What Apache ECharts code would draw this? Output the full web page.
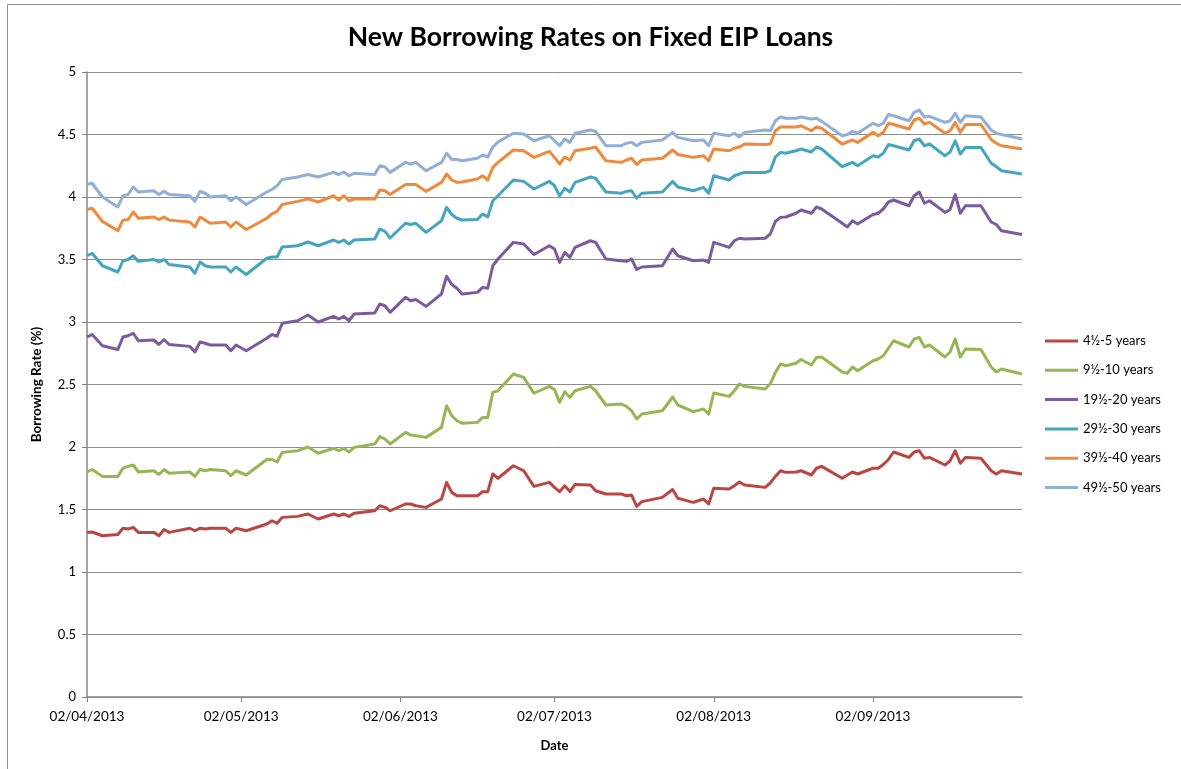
<!DOCTYPE html>
<html>
<head>
<meta charset="utf-8">
<script src="https://cdn.jsdelivr.net/npm/echarts@6/dist/echarts.min.js"></script>
<style>
html,body{margin:0;padding:0;background:#fff;}
#chart{width:1181px;height:769px;}
</style>
</head>
<body>
<div id="chart"></div>
<script>
const dates = [
'2013-04-02','2013-04-03','2013-04-05','2013-04-08','2013-04-09','2013-04-10','2013-04-11','2013-04-12','2013-04-15','2013-04-16',
'2013-04-17','2013-04-18','2013-04-22','2013-04-23','2013-04-24','2013-04-25','2013-04-26','2013-04-29','2013-04-30','2013-05-01',
'2013-05-03','2013-05-07','2013-05-08','2013-05-09','2013-05-10','2013-05-13','2013-05-15','2013-05-17','2013-05-20','2013-05-21',
'2013-05-22','2013-05-23','2013-05-24','2013-05-28','2013-05-29','2013-05-30','2013-05-31','2013-06-03','2013-06-04','2013-06-05',
'2013-06-07','2013-06-10','2013-06-11','2013-06-12','2013-06-13','2013-06-14','2013-06-17','2013-06-18','2013-06-19','2013-06-20',
'2013-06-21','2013-06-24','2013-06-26','2013-06-28','2013-07-01','2013-07-02','2013-07-03','2013-07-04','2013-07-05','2013-07-06',
'2013-07-09','2013-07-10','2013-07-12','2013-07-15','2013-07-16','2013-07-17','2013-07-18','2013-07-19','2013-07-23','2013-07-25',
'2013-07-26','2013-07-29','2013-07-31','2013-08-01','2013-08-02','2013-08-05','2013-08-06','2013-08-07','2013-08-08','2013-08-12',
'2013-08-13','2013-08-14','2013-08-15','2013-08-16','2013-08-18','2013-08-19','2013-08-21','2013-08-22','2013-08-23','2013-08-27',
'2013-08-28','2013-08-29','2013-08-30','2013-09-02','2013-09-03','2013-09-04','2013-09-05','2013-09-06','2013-09-09','2013-09-10',
'2013-09-11','2013-09-12','2013-09-13','2013-09-16','2013-09-17','2013-09-18','2013-09-19','2013-09-20','2013-09-23','2013-09-25',
'2013-09-26','2013-09-27','2013-10-01'
];

const rate4_5 = [
1.317,1.32,1.29,1.30,1.35,1.344,1.357,1.317,1.317,1.29,1.34,1.317,1.35,1.33,1.35,1.344,1.35,1.35,1.317,1.35,1.33,1.384,1.41,1.39,1.437,1.445,1.464,1.424,
1.464,1.45,1.464,1.445,1.47,1.49,1.53,1.517,1.49,1.544,1.544,1.53,1.517,1.584,1.717,1.637,1.61,1.61,1.61,1.643,1.643,1.784,1.75,1.85,1.81,1.685,1.717,
1.677,1.643,1.69,1.643,1.70,1.696,1.65,1.624,1.624,1.61,1.616,1.525,1.563,1.597,1.66,1.59,1.557,1.584,1.544,1.67,1.664,1.69,1.72,1.696,1.677,1.712,1.765,1.81,1.797,1.80,
1.81,1.776,1.83,1.845,1.75,1.776,1.80,1.784,1.83,1.83,1.86,1.90,1.96,1.917,1.96,1.97,1.91,1.917,1.856,1.89,1.97,1.87,1.917,1.91,1.81,1.784,1.81,1.784
];
const rate9_10 = [
1.80,1.82,1.765,1.765,1.83,1.845,1.856,1.80,1.81,1.78,1.82,1.79,1.80,1.765,1.82,1.81,1.82,1.81,1.77,1.81,1.776,1.90,1.90,1.88,1.957,1.97,2.00,1.95,
1.99,1.97,1.99,1.96,1.997,2.024,2.083,2.064,2.024,2.117,2.096,2.09,2.077,2.157,2.33,2.25,2.21,2.19,2.197,2.237,2.237,2.437,2.45,2.584,2.557,2.43,2.485,
2.459,2.357,2.443,2.397,2.45,2.485,2.45,2.336,2.344,2.325,2.29,2.224,2.264,2.29,2.40,2.336,2.283,2.304,2.264,2.432,2.405,2.45,2.504,2.485,2.464,2.504,2.597,2.664,2.65,2.67,
2.70,2.656,2.717,2.72,2.60,2.59,2.64,2.61,2.69,2.704,2.73,2.79,2.85,2.80,2.864,2.877,2.80,2.816,2.72,2.76,2.864,2.72,2.784,2.78,2.64,2.60,2.624,2.584
];
const rate19_20 = [
2.88,2.90,2.81,2.78,2.88,2.89,2.91,2.85,2.856,2.82,2.86,2.82,2.805,2.76,2.84,2.83,2.816,2.816,2.77,2.816,2.77,2.87,2.90,2.886,2.99,3.01,3.056,3.00,
3.045,3.024,3.045,3.01,3.064,3.072,3.144,3.13,3.077,3.197,3.17,3.18,3.125,3.224,3.366,3.30,3.27,3.224,3.237,3.277,3.27,3.45,3.504,3.637,3.624,3.54,3.61,
3.584,3.477,3.557,3.517,3.597,3.65,3.637,3.504,3.49,3.485,3.504,3.42,3.44,3.45,3.584,3.53,3.49,3.496,3.477,3.637,3.597,3.65,3.67,3.664,3.67,3.704,3.805,3.837,3.84,3.87,
3.896,3.87,3.92,3.904,3.79,3.76,3.81,3.784,3.86,3.87,3.904,3.96,3.976,3.93,4.01,4.04,3.95,3.97,3.877,3.90,4.02,3.87,3.93,3.93,3.80,3.78,3.73,3.70
];
const rate29_30 = [
3.53,3.55,3.45,3.40,3.49,3.50,3.53,3.485,3.50,3.48,3.50,3.46,3.44,3.39,3.48,3.45,3.44,3.44,3.40,3.44,3.38,3.51,3.52,3.52,3.60,3.61,3.64,3.61,
3.656,3.637,3.656,3.624,3.656,3.664,3.744,3.725,3.672,3.79,3.78,3.79,3.717,3.81,3.917,3.86,3.83,3.816,3.82,3.864,3.84,3.97,4.01,4.136,4.125,4.064,4.125,
4.09,4.01,4.07,4.04,4.117,4.16,4.15,4.04,4.03,4.045,4.05,3.99,4.03,4.04,4.125,4.08,4.05,4.077,4.03,4.17,4.136,4.17,4.184,4.197,4.197,4.21,4.32,4.357,4.35,4.37,
4.384,4.36,4.40,4.384,4.243,4.26,4.277,4.25,4.33,4.32,4.35,4.42,4.41,4.376,4.45,4.464,4.41,4.424,4.33,4.36,4.45,4.344,4.397,4.397,4.27,4.243,4.21,4.184
];
const rate39_40 = [
3.90,3.91,3.805,3.73,3.815,3.82,3.88,3.83,3.84,3.82,3.84,3.815,3.80,3.76,3.84,3.815,3.79,3.80,3.76,3.80,3.74,3.83,3.865,3.885,3.94,3.965,3.985,3.96,
4.01,3.976,4.01,3.97,3.984,3.984,4.056,4.05,4.02,4.10,4.10,4.10,4.045,4.117,4.184,4.136,4.117,4.12,4.144,4.17,4.136,4.237,4.277,4.376,4.37,4.317,4.365,
4.317,4.264,4.32,4.296,4.37,4.39,4.40,4.29,4.277,4.296,4.31,4.26,4.296,4.31,4.376,4.34,4.317,4.33,4.29,4.384,4.37,4.39,4.40,4.424,4.42,4.424,4.53,4.56,4.56,4.56,
4.57,4.53,4.56,4.55,4.424,4.44,4.456,4.437,4.517,4.49,4.517,4.59,4.58,4.544,4.616,4.63,4.584,4.597,4.51,4.53,4.597,4.517,4.58,4.58,4.46,4.43,4.41,4.384
];
const rate49_50 = [
4.10,4.11,4.00,3.92,4.01,4.02,4.08,4.04,4.05,4.02,4.045,4.02,4.01,3.965,4.045,4.03,4.00,4.01,3.97,4.00,3.94,4.04,4.06,4.09,4.14,4.16,4.18,4.16,
4.197,4.18,4.20,4.17,4.19,4.18,4.25,4.24,4.197,4.277,4.264,4.277,4.21,4.277,4.35,4.30,4.30,4.29,4.31,4.336,4.32,4.40,4.44,4.51,4.504,4.45,4.49,
4.45,4.41,4.464,4.437,4.51,4.536,4.525,4.41,4.41,4.43,4.437,4.41,4.437,4.456,4.517,4.477,4.45,4.456,4.41,4.51,4.49,4.51,4.48,4.517,4.536,4.53,4.61,4.64,4.63,4.63,
4.64,4.624,4.63,4.605,4.49,4.50,4.525,4.51,4.59,4.57,4.59,4.66,4.65,4.61,4.677,4.696,4.64,4.645,4.597,4.61,4.67,4.597,4.65,4.64,4.536,4.51,4.50,4.464
];

const seriesNames = ['4½-5 years','9½-10 years','19½-20 years','29½-30 years','39½-40 years','49½-50 years'];
const seriesValues = [rate4_5, rate9_10, rate19_20, rate29_30, rate39_40, rate49_50];
const seriesColors = ['#BB4541','#95B652','#7A5C9E','#44A5BF','#EE8A3C','#91AED6'];
const xTickDates = ['2013-04-02','2013-05-02','2013-06-02','2013-07-02','2013-08-02','2013-09-02'];
const xMin = '2013-04-02';
const xMax = '2013-10-01';

function ts(s){ const p = s.split('-'); return Date.UTC(+p[0], +p[1]-1, +p[2]); }
function pad(n){ return (n<10?'0':'')+n; }

const FONT = 'Lato, "Liberation Sans", sans-serif';
const chart = echarts.init(document.getElementById('chart'), null, {renderer:'canvas'});
const tickVals = xTickDates.map(ts);

const option = {
  animation: false,
  backgroundColor: '#ffffff',
  textStyle: {fontFamily: FONT},
  graphic: [{
    type: 'rect', silent: true, z: -10,
    shape: {x: 7.5, y: 4.5, width: 1300, height: 900},
    style: {fill: 'none', stroke: '#8c8c8c', lineWidth: 1}
  }],
  title: {
    text: 'New Borrowing Rates on Fixed EIP Loans',
    left: 'center', top: 19,
    textStyle: {fontFamily: FONT, fontSize: 26.5, fontWeight: 'bold', color: '#000'}
  },
  legend: {
    orient: 'vertical',
    left: 1040, top: 328,
    icon: 'rect',
    itemWidth: 33, itemHeight: 3,
    itemGap: 13.3,
    textStyle: {fontFamily: FONT, fontSize: 13, color: '#000', lineHeight: 16},
    data: seriesNames
  },
  grid: {left: 87, top: 72, right: 159, bottom: 72, containLabel: false},
  xAxis: {
    type: 'value',
    min: ts(xMin), max: ts(xMax),
    name: 'Date', nameLocation: 'middle', nameGap: 42,
    nameTextStyle: {fontFamily: FONT, fontSize: 13, fontWeight: 'bold', color: '#000'},
    axisLine: {show: true, lineStyle: {color: '#868686', width: 1.5}},
    axisTick: {show: true, length: 5, lineStyle: {color: '#868686'}, customValues: tickVals},
    axisLabel: {
      customValues: tickVals,
      fontFamily: FONT, fontSize: 13.5, color: '#000', margin: 13,
      formatter: function(v){ const d = new Date(v); return pad(d.getUTCDate())+'/'+pad(d.getUTCMonth()+1)+'/'+d.getUTCFullYear(); }
    },
    splitLine: {show: false},
    minorTick: {show: false}
  },
  yAxis: {
    type: 'value', min: 0, max: 5, interval: 0.5,
    name: 'Borrowing Rate (%)', nameLocation: 'middle', nameGap: 43, nameRotate: 90,
    nameTextStyle: {fontFamily: FONT, fontSize: 13.5, fontWeight: 'bold', color: '#000'},
    axisLine: {show: true, lineStyle: {color: '#868686', width: 1.5}},
    axisTick: {show: true, length: 5, lineStyle: {color: '#868686'}},
    axisLabel: {fontFamily: FONT, fontSize: 13, color: '#000', margin: 11},
    splitLine: {show: true, lineStyle: {color: '#8c8c8c', width: 1}}
  },
  series: seriesNames.map(function(name, k){
    return {
      name: name, type: 'line',
      showSymbol: false, symbol: 'none',
      color: seriesColors[k],
      lineStyle: {width: 3, color: seriesColors[k], join: 'round'},
      data: dates.map(function(d, i){ return [ts(d), seriesValues[k][i]]; })
    };
  })
};
chart.setOption(option);
</script>
</body>
</html>
